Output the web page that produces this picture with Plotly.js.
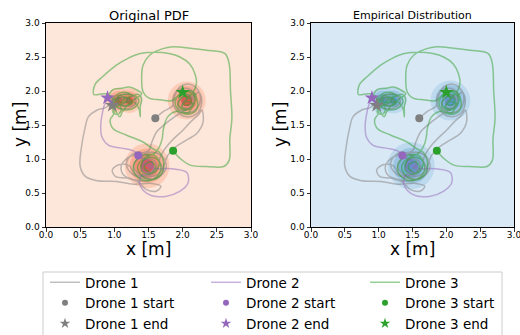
<!DOCTYPE html>
<html><head><meta charset="utf-8">
<script src="https://cdn.plot.ly/plotly-3.0.1.min.js"></script>
<style>html,body{margin:0;padding:0;background:#fff}#chart{width:520px;height:335px}</style>
</head><body><div id="chart"></div>
<script>
// ---------- data ----------
const droneNames = ['Drone 1', 'Drone 2', 'Drone 3'];

const drone1X = [1.60,1.72,1.85,1.88,1.96,2.10,2.22,2.26,2.20,2.06,1.94,1.96,2.08,2.16,2.12,2.00,2.02,2.12,2.24,2.28,2.22,2.08,1.96,1.86,1.90,2.04,2.16,2.14,2.00,1.88,1.75,1.62,1.55,1.50,
  1.35,1.20,1.10,1.14,1.28,1.48,1.66,1.76,1.70,1.54,1.38,1.28,1.36,1.52,1.62,1.58,1.46,1.40,1.48,1.56,1.50,1.32,1.18,1.22,1.40,1.60,1.72,1.66,
  1.72,1.85,2.00,2.12,2.22,2.28,2.30,2.21,2.06,1.90,1.78,1.72,1.65,1.48,1.30,1.22,1.08,0.97,1.02,1.18,1.35,1.47,1.62,1.68,1.55,1.28,1.03,0.75,0.58,0.50,0.52,0.57,0.62,0.75,0.88,
  1.00,1.12,1.26,1.32,1.24,1.10,1.00,1.06,1.18,1.24,1.14,1.04,1.10,1.20,1.12,0.97];
const drone1Y = [1.60,1.70,1.78,1.92,2.06,2.10,2.02,1.88,1.74,1.68,1.74,1.88,1.94,1.86,1.76,1.76,1.86,1.90,1.98,1.84,1.68,1.62,1.66,1.82,1.98,2.04,1.98,1.80,1.70,1.62,1.52,1.40,1.25,1.12,
  1.08,1.02,0.90,0.76,0.70,0.68,0.74,0.88,1.04,1.10,1.04,0.90,0.78,0.76,0.86,0.98,1.00,0.90,0.84,0.92,1.04,1.10,0.96,0.82,0.72,0.72,0.82,0.98,
  1.12,1.28,1.42,1.55,1.64,1.72,1.55,1.38,1.28,1.18,1.05,0.90,0.78,0.74,0.78,0.90,0.92,0.84,0.74,0.72,0.66,0.55,0.53,0.60,0.64,0.63,0.67,0.68,0.74,0.89,1.18,1.45,1.62,1.72,1.76,
  1.88,1.95,1.94,1.84,1.76,1.74,1.80,1.90,1.90,1.82,1.78,1.84,1.88,1.86,1.80,1.79];

const drone2X = [1.35,1.45,1.55,1.58,1.48,1.40,1.46,1.56,1.52,1.40,1.37,1.42,1.55,1.75,1.95,2.08,2.06,1.90,1.72,1.57,1.45,1.40,1.28,1.10,0.92,0.82,0.80,0.82,0.85,0.90];
const drone2Y = [1.05,1.00,0.93,0.84,0.80,0.86,0.94,0.86,0.78,0.76,0.65,0.54,0.46,0.45,0.52,0.65,0.80,0.85,0.86,0.86,0.92,1.02,1.12,1.16,1.20,1.32,1.48,1.65,1.78,1.90];

const drone3X = [1.86,1.96,2.11,2.35,2.60,2.68,2.69,2.72,2.70,2.68,2.62,2.35,2.11,1.86,1.70,1.52,1.42,1.40,1.42,1.50,1.67,1.85,
  1.95,2.08,2.18,2.14,2.00,1.93,2.02,2.12,2.10,2.02,2.06,2.16,2.22,2.18,2.04,1.92,1.90,2.00,2.12,2.20,2.10,1.98,2.04,2.14,2.08,1.90,
  1.78,1.72,1.70,1.66,
  1.58,1.45,1.32,1.28,1.36,1.50,1.62,1.68,1.62,1.50,1.40,1.40,1.52,1.60,1.54,1.44,1.48,1.58,1.66,1.58,1.42,1.34,1.42,1.58,1.70,1.72,1.66,1.55,
  1.42,1.18,0.98,0.94,1.00,
  0.95,1.02,1.12,1.22,1.18,1.08,1.05,1.16,1.28,1.36,1.30,1.18,1.06,1.00,1.08,1.20,1.26,1.18,1.10,1.14,1.25,1.35,1.40,1.38,1.38,1.36,1.28,1.15,1.02,0.98,1.06,1.10,1.02,0.92,0.98,1.10,1.22,1.32,1.40,1.30,1.20,1.12,1.08,1.00,0.95,0.85,
  0.70,0.72,0.84,1.03,1.20,1.38,1.60,1.80,1.96,2.10,2.18,2.20,2.12,2.00];
const drone3Y = [1.12,1.01,0.91,0.89,0.89,0.98,1.30,1.60,2.00,2.40,2.55,2.60,2.63,2.65,2.62,2.53,2.38,2.19,1.99,1.90,1.87,1.86,
  1.95,1.99,1.90,1.76,1.72,1.82,1.92,1.88,1.80,1.80,1.88,1.95,1.84,1.70,1.66,1.74,1.88,1.98,2.00,1.92,1.74,1.76,1.84,1.82,1.68,1.70,
  1.62,1.45,1.30,1.18,
  1.08,1.06,0.98,0.84,0.72,0.68,0.74,0.88,1.00,1.02,0.94,0.82,0.78,0.88,0.96,0.90,0.82,0.80,0.94,1.06,1.00,0.88,0.74,0.70,0.80,0.96,1.10,1.16,
  1.25,1.35,1.45,1.58,1.68,
  1.80,1.93,1.98,1.96,1.86,1.84,1.92,1.95,1.94,1.86,1.76,1.72,1.75,1.84,1.90,1.90,1.82,1.78,1.80,1.88,1.92,1.95,1.88,1.78,1.62,1.74,1.84,1.83,1.76,1.68,1.66,1.74,1.86,1.92,2.02,2.04,2.06,2.02,1.96,1.88,1.80,1.70,1.62,1.75,1.93,1.96,
  1.95,2.10,2.22,2.38,2.48,2.55,2.57,2.55,2.50,2.40,2.25,2.10,1.95,1.98];

const startX = [1.60, 1.35, 1.86];
const startY = [1.60, 1.05, 1.12];
const endX = [0.97, 0.90, 2.00];
const endY = [1.79, 1.90, 1.98];

// centres of the density blobs (the left one is elongated -> two centres)
const blobX = [1.06, 1.22, 2.06, 1.48];
const blobY = [1.86, 1.86, 1.86, 0.90];

const tickVals = [0, 0.5, 1, 1.5, 2, 2.5, 3];
const tickText = ['0.0', '0.5', '1.0', '1.5', '2.0', '2.5', '3.0'];

// ---------- styles ----------
const FONT = 'DejaVu Sans, Verdana, sans-serif';
const lineColors = ['rgba(127,127,127,0.5)', 'rgba(148,103,189,0.5)', 'rgba(44,160,44,0.5)'];
const markColors = ['#7f7f7f', '#9467bd', '#2ca02c'];
const legendIds = ['legend', 'legend2', 'legend3'];
const blobScale = [0.62, 0.62, 0.95, 1.12];
const redLayers = [
  {s: 40, c: 'rgba(251,180,152,0.75)'},
  {s: 31, c: 'rgba(248,150,120,0.75)'},
  {s: 22, c: 'rgba(240,110,90,0.75)'},
  {s: 12, c: 'rgba(205,55,50,0.8)'}
];
const blueLayers = [
  {s: 42, c: 'rgba(168,205,231,0.8)'},
  {s: 32, c: 'rgba(130,182,218,0.8)'},
  {s: 22, c: 'rgba(98,160,206,0.8)'},
  {s: 12, c: 'rgba(70,135,192,0.8)'}
];
const pathX = [drone1X, drone2X, drone3X];
const pathY = [drone1Y, drone2Y, drone3Y];

function blobTrace(layers, xa, ya) {
  const x = [], y = [], s = [], c = [];
  layers.forEach(L => {
    blobX.forEach((bx, i) => {
      x.push(bx); y.push(blobY[i]); s.push(L.s * blobScale[i]); c.push(L.c);
    });
  });
  return {type: 'scatter', mode: 'markers', x, y, xaxis: xa, yaxis: ya,
    marker: {size: s, color: c, line: {width: 0}}, showlegend: false, hoverinfo: 'skip'};
}

const traces = [];
[['x', 'y', redLayers], ['x2', 'y2', blueLayers]].forEach(([xa, ya, layers]) => {
  traces.push(blobTrace(layers, xa, ya));
  for (let i = 0; i < 3; i++) {
    traces.push({type: 'scatter', mode: 'lines', x: pathX[i], y: pathY[i], xaxis: xa, yaxis: ya,
      showlegend: false, line: {color: lineColors[i], width: 1.5, shape: 'spline', smoothing: 1}});
  }
  for (let i = 0; i < 3; i++) {
    traces.push({type: 'scatter', mode: 'markers', x: [startX[i]], y: [startY[i]], xaxis: xa, yaxis: ya,
      showlegend: false, marker: {symbol: 'circle', size: 8, color: markColors[i]}});
  }
  for (let i = 0; i < 3; i++) {
    traces.push({type: 'scatter', mode: 'markers', x: [endX[i]], y: [endY[i]], xaxis: xa, yaxis: ya,
      showlegend: false, marker: {symbol: 'star', size: 11, color: markColors[i]}});
  }
});
// legend entries (smaller legend symbols, as in the reference)
for (let i = 0; i < 3; i++) {
  traces.push({type: 'scatter', mode: 'lines', x: [null], y: [null], name: droneNames[i], legend: legendIds[i],
    line: {color: lineColors[i], width: 1.5}});
  traces.push({type: 'scatter', mode: 'markers', x: [null], y: [null], name: droneNames[i] + ' start', legend: legendIds[i],
    marker: {symbol: 'circle', size: 6, color: markColors[i]}});
  traces.push({type: 'scatter', mode: 'markers', x: [null], y: [null], name: droneNames[i] + ' end', legend: legendIds[i],
    marker: {symbol: 'star', size: 8, color: markColors[i]}});
}

function axis(domain, anchor, isX) {
  return {domain, anchor, range: [0, 3], tickvals: tickVals, ticktext: tickText,
    showline: true, mirror: true, linecolor: '#000', linewidth: 1,
    ticks: 'outside', ticklen: 3.5, tickwidth: 0.8, tickcolor: '#000',
    showgrid: false, zeroline: false, fixedrange: true, ticklabeloverflow: 'allow',
    ticklabelstandoff: isX ? -4 : 0,
    tickfont: {family: FONT, size: 9, color: '#000'}};
}
const yDom = [1 - 227 / 335, 1 - 23 / 335];
function legendAt(px) {
  return {x: px / 520, y: 1 - 267 / 335, xanchor: 'left', yanchor: 'top', orientation: 'v',
    bgcolor: 'rgba(0,0,0,0)', borderwidth: 0, tracegroupgap: 0,
    font: {family: FONT, size: 13.5, color: '#000'}};
}
function ann(text, px, py, size, angle) {
  return {text, xref: 'paper', yref: 'paper', x: px / 520, y: 1 - py / 335, showarrow: false,
    xanchor: 'center', yanchor: 'middle', textangle: angle || 0, font: {family: FONT, size, color: '#000'}};
}

const layout = {
  width: 520, height: 335, margin: {l: 0, r: 0, t: 0, b: 0, autoexpand: false},
  paper_bgcolor: '#fff', plot_bgcolor: 'rgba(0,0,0,0)',
  font: {family: FONT, color: '#000'},
  xaxis: axis([46 / 520, 251 / 520], 'y', true),
  yaxis: axis(yDom, 'x', false),
  xaxis2: axis([311 / 520, 514 / 520], 'y2', true),
  yaxis2: axis(yDom, 'x2', false),
  legend: legendAt(45), legend2: legendAt(206), legend3: legendAt(365),
  shapes: [
    {type: 'rect', xref: 'x domain', yref: 'y domain', x0: 0, x1: 1, y0: 0, y1: 1, layer: 'below',
      fillcolor: '#fde6da', line: {width: 0}},
    {type: 'rect', xref: 'x2 domain', yref: 'y2 domain', x0: 0, x1: 1, y0: 0, y1: 1, layer: 'below',
      fillcolor: '#d9e8f5', line: {width: 0}},
    {type: 'rect', xref: 'paper', yref: 'paper', x0: 43 / 520, x1: 502 / 520, y0: -0.05, y1: 1 - 272 / 335,
      fillcolor: 'rgba(255,255,255,0.8)', line: {color: '#cccccc', width: 1}}
  ],
  annotations: [
    ann('Original PDF', 148.5, 15, 13),
    ann('Empirical Distribution', 412.5, 15, 11),
    ann('x [m]', 148.5, 249, 17),
    ann('x [m]', 412.5, 249, 17),
    ann('y [m]', 20, 125, 17, -90),
    ann('y [m]', 280, 125, 17, -90)
  ]
};
Plotly.newPlot('chart', traces, layout, {staticPlot: true, displayModeBar: false});
</script></body></html>
